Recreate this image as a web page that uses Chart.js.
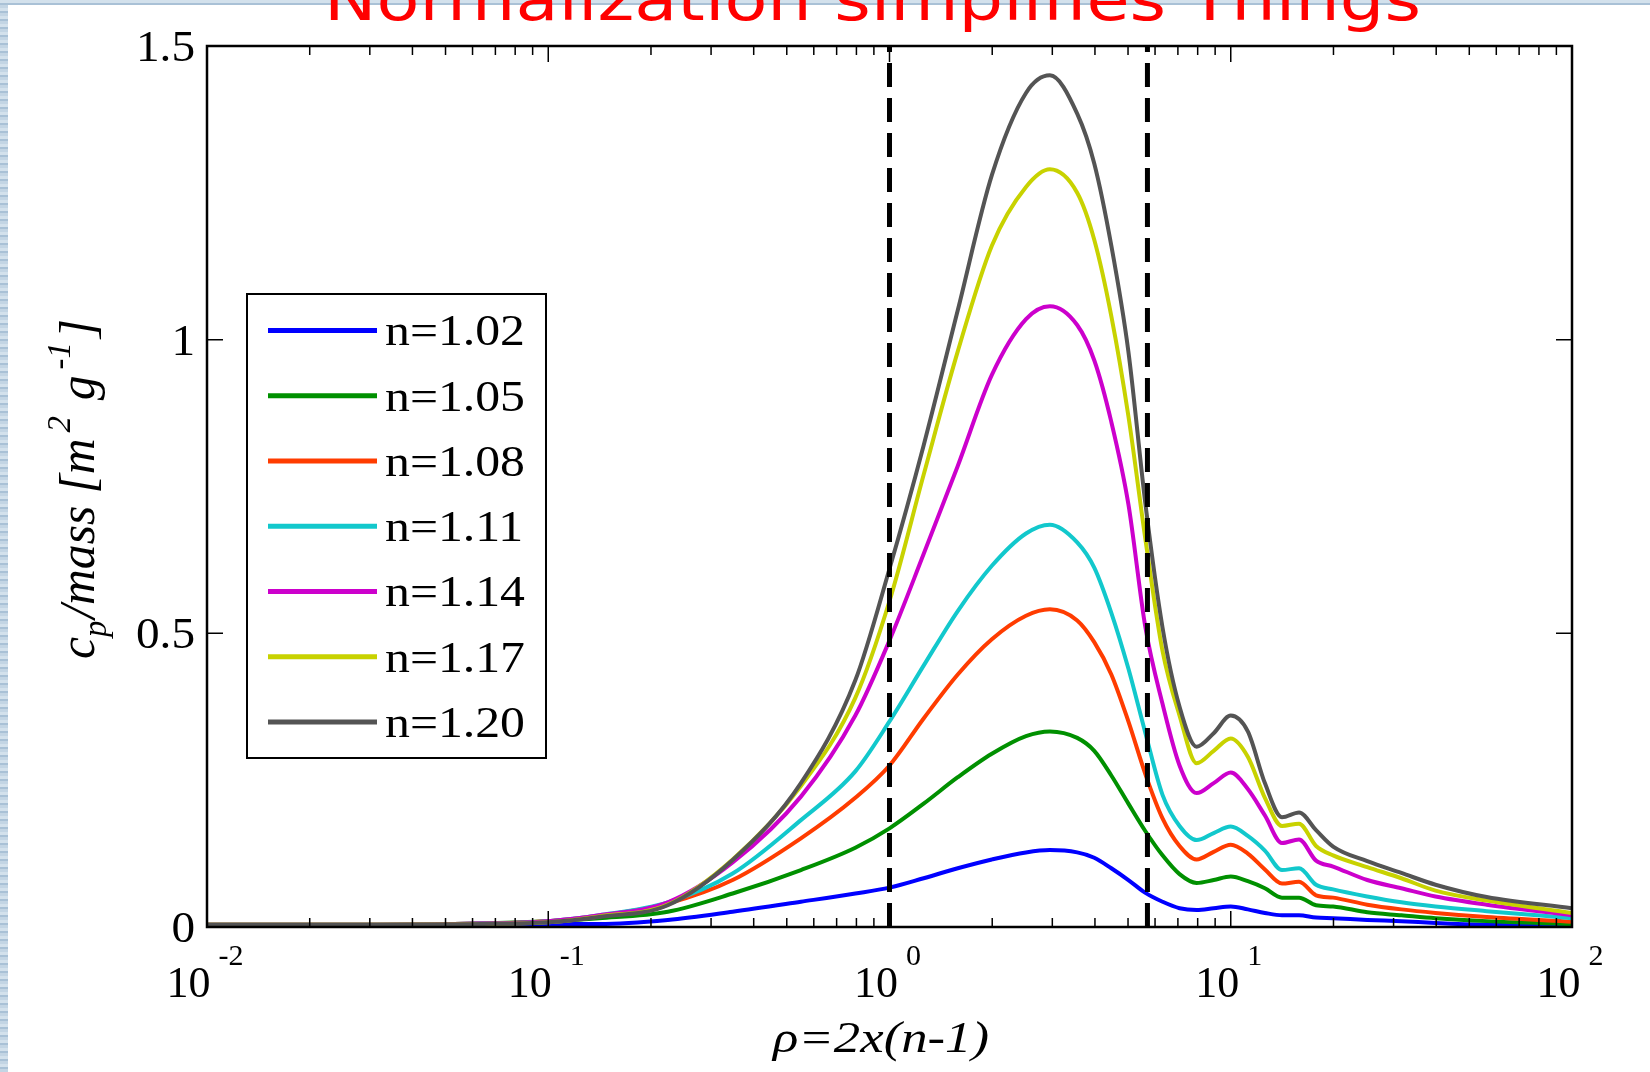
<!DOCTYPE html>
<html>
<head>
<meta charset="utf-8">
<script src="https://cdn.jsdelivr.net/npm/chart.js@4.4.1/dist/chart.umd.min.js"></script>
<style>
html,body{margin:0;padding:0;width:1650px;height:1072px;overflow:hidden;}
body{background:repeating-linear-gradient(0deg,#c3d5e4 0px,#c3d5e4 3px,#a9c1d6 3px,#a9c1d6 5px,#d3e1ec 5px,#d3e1ec 8px);}
#panel{position:absolute;left:8px;top:5px;right:0;bottom:0;background:#ffffff;}
#wrap{position:absolute;left:0;top:0;width:1650px;height:1072px;}
</style>
</head>
<body>
<div id="panel"></div>
<div id="wrap"><canvas id="c" width="1650" height="1072"></canvas></div>
<script>
// ---- data ----
const rho = [0.01, 0.0316, 0.0631, 0.1, 0.141, 0.224, 0.347, 0.55, 0.794, 1, 1.259, 1.585, 1.995, 2.512, 2.951, 3.548, 3.981, 4.467, 5.012, 5.623, 6.31, 7.079, 7.943, 8.913, 10, 11.22, 12.59, 14.13, 15.85, 17.78, 19.95, 25.12, 31.62, 39.81, 56.23, 100];

const cp102 = [0.003, 0.003, 0.004, 0.005, 0.005, 0.012, 0.026, 0.043, 0.057, 0.067, 0.083, 0.100, 0.115, 0.127, 0.131, 0.127, 0.118, 0.100, 0.080, 0.058, 0.043, 0.032, 0.029, 0.032, 0.035, 0.030, 0.024, 0.020, 0.020, 0.016, 0.015, 0.012, 0.010, 0.007, 0.004, 0.003];
const cp105 = [0.004, 0.004, 0.006, 0.010, 0.015, 0.026, 0.057, 0.097, 0.135, 0.168, 0.210, 0.255, 0.295, 0.325, 0.333, 0.322, 0.300, 0.258, 0.210, 0.163, 0.122, 0.090, 0.075, 0.080, 0.086, 0.078, 0.066, 0.050, 0.050, 0.037, 0.035, 0.025, 0.020, 0.015, 0.010, 0.005];
const cp108 = [0.004, 0.004, 0.006, 0.010, 0.019, 0.040, 0.080, 0.151, 0.220, 0.275, 0.355, 0.430, 0.490, 0.530, 0.541, 0.522, 0.485, 0.430, 0.350, 0.260, 0.185, 0.138, 0.115, 0.128, 0.140, 0.125, 0.098, 0.074, 0.077, 0.054, 0.050, 0.038, 0.030, 0.024, 0.017, 0.009];
const cp111 = [0.004, 0.004, 0.006, 0.010, 0.020, 0.042, 0.091, 0.182, 0.265, 0.350, 0.445, 0.538, 0.615, 0.670, 0.685, 0.655, 0.612, 0.535, 0.440, 0.330, 0.225, 0.172, 0.148, 0.160, 0.171, 0.155, 0.130, 0.097, 0.100, 0.072, 0.064, 0.052, 0.042, 0.035, 0.027, 0.015];
const cp114 = [0.004, 0.004, 0.006, 0.010, 0.020, 0.042, 0.110, 0.222, 0.360, 0.488, 0.635, 0.785, 0.940, 1.035, 1.057, 1.025, 0.965, 0.860, 0.720, 0.510, 0.380, 0.275, 0.228, 0.245, 0.263, 0.235, 0.190, 0.143, 0.149, 0.113, 0.103, 0.080, 0.066, 0.052, 0.038, 0.020];
const cp117 = [0.004, 0.004, 0.005, 0.008, 0.018, 0.038, 0.115, 0.240, 0.390, 0.555, 0.770, 0.980, 1.160, 1.260, 1.290, 1.250, 1.170, 1.040, 0.870, 0.660, 0.470, 0.360, 0.279, 0.300, 0.321, 0.290, 0.220, 0.172, 0.176, 0.138, 0.122, 0.102, 0.083, 0.062, 0.045, 0.024];
const cp120 = [0.004, 0.004, 0.005, 0.008, 0.017, 0.037, 0.114, 0.245, 0.420, 0.610, 0.820, 1.050, 1.280, 1.420, 1.450, 1.385, 1.300, 1.160, 0.980, 0.720, 0.510, 0.375, 0.307, 0.330, 0.360, 0.333, 0.245, 0.187, 0.195, 0.165, 0.137, 0.112, 0.092, 0.072, 0.051, 0.032];

const seriesLabels = ['n=1.02', 'n=1.05', 'n=1.08', 'n=1.11', 'n=1.14', 'n=1.17', 'n=1.20'];
const seriesColors = ['#0000ff', '#009000', '#ff3c00', '#12c8cc', '#cc00cc', '#c8d200', '#545454'];
const seriesValues = [cp102, cp105, cp108, cp111, cp114, cp117, cp120];

const dashX = [1, 5.7];
const yTicks = [0, 0.5, 1, 1.5];
const yTickLabels = ['0', '0.5', '1', '1.5'];
const xTickExps = [-2, -1, 0, 1, 2];
const xMin = 0.01, xMax = 100, yMin = 0, yMax = 1.5;

const titleText = 'Normalization simplifies Things';
const xTitle = 'ρ=2x(n-1)';

// ---- build datasets ----
const datasets = seriesValues.map((vals, i) => ({
  label: seriesLabels[i],
  data: rho.map((x, j) => ({x: x, y: vals[j]})),
  borderColor: seriesColors[i],
  backgroundColor: seriesColors[i],
  borderWidth: 4,
  pointRadius: 0,
  fill: false,
  cubicInterpolationMode: 'monotone',
  order: 10 - i
}));
dashX.forEach(x => datasets.push({
  label: '',
  isGuide: true,
  data: [{x: x, y: yMin}, {x: x, y: yMax}],
  borderColor: '#000000',
  borderWidth: 5,
  borderDash: [24, 11],
  pointRadius: 0,
  fill: false,
  order: 0
}));

const SERIF = '"Liberation Serif", "Times New Roman", serif';

function drawText(ctx, s, x, y, font, sx, align) {
  ctx.save();
  ctx.font = font;
  const w = ctx.measureText(s).width;
  ctx.translate(x, y);
  ctx.scale(sx, 1);
  let ox = 0;
  if (align === 'center') ox = -w / 2;
  else if (align === 'right') ox = -w;
  ctx.fillText(s, ox, 0);
  ctx.restore();
  return w * sx;
}

function drawRich(ctx, parts, cx, baseY, targetLen, rot) {
  ctx.save();
  ctx.translate(cx, baseY);
  if (rot) ctx.rotate(rot);
  let total = 0;
  parts.forEach(p => { ctx.font = p.f; p.w = ctx.measureText(p.t).width; total += p.w + (p.gap || 0); });
  const sx = targetLen ? targetLen / total : 1;
  ctx.scale(sx, 1);
  let x = -total / 2;
  parts.forEach(p => {
    x += (p.gap || 0);
    ctx.font = p.f;
    ctx.fillText(p.t, x, p.dy || 0);
    x += p.w;
  });
  ctx.restore();
}

const decor = {
  id: 'decor',
  afterDraw(chart) {
    const ctx = chart.ctx;
    const xs = chart.scales.x, ys = chart.scales.y;
    const a = chart.chartArea;
    ctx.save();
    ctx.fillStyle = '#000';
    ctx.strokeStyle = '#000';
    ctx.textBaseline = 'alphabetic';

    // frame
    ctx.lineWidth = 2.5;
    ctx.strokeRect(a.left, a.top, a.right - a.left, a.bottom - a.top);

    // x ticks (log, major + minor) top and bottom
    const majorLen = 16, minorLen = 9;
    ctx.lineWidth = 1.5;
    ctx.beginPath();
    for (let e = xTickExps[0]; e <= xTickExps[xTickExps.length - 1]; e++) {
      const px = xs.getPixelForValue(Math.pow(10, e));
      ctx.moveTo(px, a.bottom); ctx.lineTo(px, a.bottom - majorLen);
      ctx.moveTo(px, a.top); ctx.lineTo(px, a.top + majorLen);
      if (e < xTickExps[xTickExps.length - 1]) {
        for (let k = 2; k <= 9; k++) {
          const pm = xs.getPixelForValue(k * Math.pow(10, e));
          ctx.moveTo(pm, a.bottom); ctx.lineTo(pm, a.bottom - minorLen);
          ctx.moveTo(pm, a.top); ctx.lineTo(pm, a.top + minorLen);
        }
      }
    }
    // y ticks left and right
    yTicks.forEach(v => {
      const py = ys.getPixelForValue(v);
      ctx.moveTo(a.left, py); ctx.lineTo(a.left + majorLen, py);
      ctx.moveTo(a.right, py); ctx.lineTo(a.right - majorLen, py);
    });
    ctx.stroke();

    // y tick labels
    yTicks.forEach((v, i) => {
      const py = ys.getPixelForValue(v);
      drawText(ctx, yTickLabels[i], a.left - 12, py + 15, '45px ' + SERIF, 1.05, 'right');
    });

    // x tick labels 10^e
    xTickExps.forEach(e => {
      const px = xs.getPixelForValue(Math.pow(10, e));
      ctx.font = '44px ' + SERIF;
      const wb = ctx.measureText('10').width;
      ctx.font = '30px ' + SERIF;
      const es = String(e);
      const we = ctx.measureText(es).width;
      const gap = 8;
      const start = px - (wb + gap + we) / 2 - 2;
      ctx.font = '44px ' + SERIF;
      ctx.fillText('10', start, 997);
      ctx.font = '30px ' + SERIF;
      ctx.fillText(es, start + wb + gap, 965);
    });

    // x axis title
    drawRich(ctx, [{t: xTitle, f: 'italic 45px ' + SERIF}], 881, 1052, 216, 0);

    // y axis title (rotated, reads bottom to top)
    const fN = 'italic 50px ' + SERIF, fS = 'italic 33px ' + SERIF;
    drawRich(ctx, [
      {t: 'c', f: fN},
      {t: 'p', f: fS, dy: 12},
      {t: '/mass [m', f: fN, gap: 2},
      {t: '2', f: fS, dy: -24, gap: 6},
      {t: 'g', f: fN, gap: 16},
      {t: '-1', f: fS, dy: -24, gap: 6},
      {t: ']', f: fN, gap: 4}
    ], 94, 489, 340, -Math.PI / 2);
    ctx.restore();

    // legend
    ctx.save();
    const lx0 = 247, lx1 = 546, ly0 = 294, ly1 = 758;
    ctx.fillStyle = '#ffffff';
    ctx.fillRect(lx0, ly0, lx1 - lx0, ly1 - ly0);
    ctx.strokeStyle = '#000';
    ctx.lineWidth = 2;
    ctx.strokeRect(lx0, ly0, lx1 - lx0, ly1 - ly0);
    ctx.font = '44px ' + SERIF;
    const refW = ctx.measureText('n=1.02').width;
    const lsx = 140 / refW;
    chart.data.datasets.forEach((ds, i) => {
      if (ds.isGuide) return;
      const y = 330.4 + i * 65.25;
      ctx.strokeStyle = ds.borderColor;
      ctx.lineWidth = 5;
      ctx.beginPath();
      ctx.moveTo(268, y); ctx.lineTo(377, y);
      ctx.stroke();
      ctx.fillStyle = '#000';
      drawText(ctx, ds.label, 385, y + 15, '44px ' + SERIF, lsx, 'left');
    });
    ctx.restore();

    // title (top partly cut off, as in the reference)
    ctx.save();
    ctx.fillStyle = '#ff0000';
    ctx.font = '58px "DejaVu Sans", sans-serif';
    const tw = ctx.measureText(titleText).width;
    ctx.translate(324, 20);
    ctx.scale(1097 / tw, 1);
    ctx.fillText(titleText, 0, 0);
    ctx.restore();
  }
};

new Chart(document.getElementById('c'), {
  type: 'line',
  data: {datasets: datasets},
  options: {
    responsive: false,
    animation: false,
    layout: {padding: {left: 207, right: 78, top: 46, bottom: 145}},
    scales: {
      x: {type: 'logarithmic', min: xMin, max: xMax, display: false},
      y: {type: 'linear', min: yMin, max: yMax, display: false}
    },
    plugins: {legend: {display: false}, tooltip: {enabled: false}, title: {display: false}}
  },
  plugins: [decor]
});
</script>
</body>
</html>
